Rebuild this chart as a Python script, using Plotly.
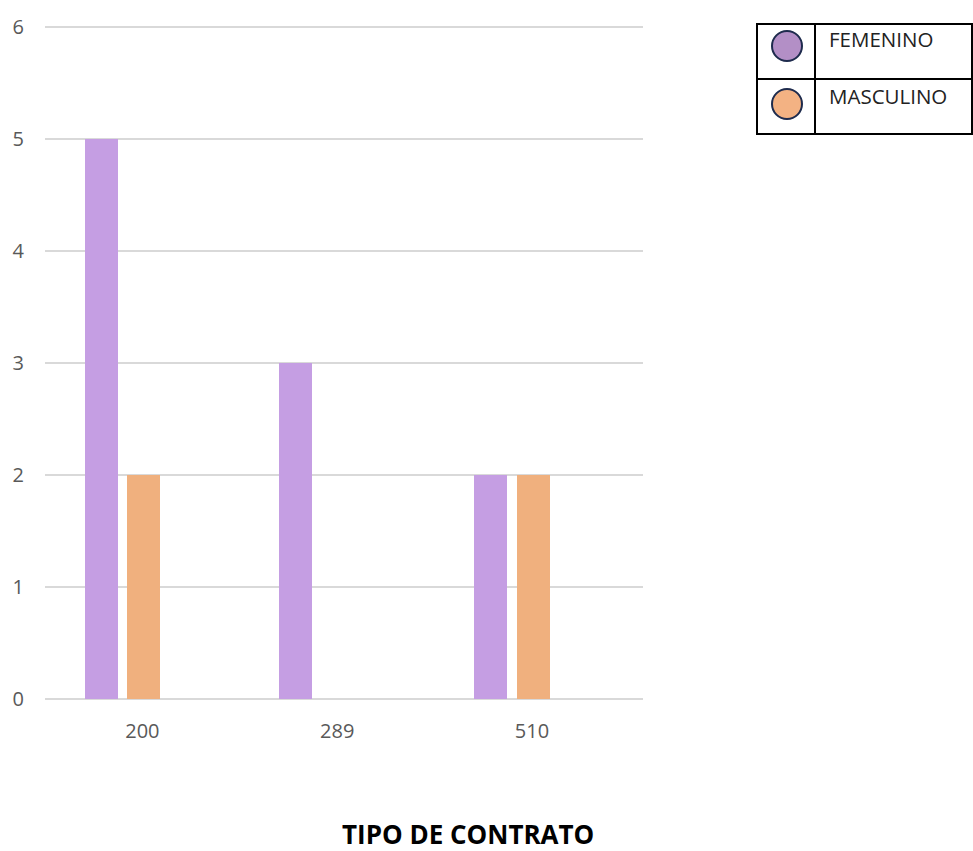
import plotly.graph_objects as go

categories = ["200", "289", "510"]
femenino = [5, 3, 2]
masculino = [2, 0, 2]
series_names = ["FEMENINO", "MASCULINO"]
y_ticks = [0, 1, 2, 3, 4, 5, 6]

FEM_BAR = "#C59EE3"
MAS_BAR = "#F0B07E"
FEM_LEG = "#B38FC6"
MAS_LEG = "#F3B283"

W, H = 973, 851
L, R, T, B = 45, 330, 26, 152
pw = W - L - R
ph = H - T - B

def px(x):
    return (x - L) / pw

def py(y):
    return (H - B - y) / ph

fig = go.Figure()
bw = 33 / 195
fig.add_trace(go.Bar(x=categories, y=femenino, name=series_names[0], marker=dict(color=FEM_BAR, line=dict(width=0)),
                     width=bw, offset=-0.297, showlegend=False))
fig.add_trace(go.Bar(x=categories, y=masculino, name=series_names[1], marker=dict(color=MAS_BAR, line=dict(width=0)),
                     width=bw, offset=-0.077, showlegend=False))

shapes = []
shapes.append(dict(type="rect", xref="paper", yref="paper", x0=px(757), x1=px(972), y0=py(134), y1=py(24),
                   line=dict(color="#000000", width=2), fillcolor="rgba(0,0,0,0)"))
shapes.append(dict(type="line", xref="paper", yref="paper", x0=px(815), x1=px(815), y0=py(134), y1=py(24),
                   line=dict(color="#000000", width=2)))
shapes.append(dict(type="line", xref="paper", yref="paper", x0=px(757), x1=px(972), y0=py(79), y1=py(79),
                   line=dict(color="#000000", width=2)))
for cy, col in [(46, FEM_LEG), (104, MAS_LEG)]:
    shapes.append(dict(type="circle", xref="paper", yref="paper", x0=px(772), x1=px(802),
                       y0=py(cy + 15), y1=py(cy - 15), fillcolor=col,
                       line=dict(color="#1E2B4D", width=2)))

annotations = [
    dict(text=series_names[0], xref="paper", yref="paper", x=px(827), y=py(39), xanchor="left",
         yanchor="middle", showarrow=False, font=dict(family="Open Sans", size=20.5, color="#222222")),
    dict(text=series_names[1], xref="paper", yref="paper", x=px(827), y=py(96), xanchor="left",
         yanchor="middle", showarrow=False, font=dict(family="Open Sans", size=20.5, color="#222222")),
    dict(text="<b>TIPO DE CONTRATO</b>", xref="paper", yref="paper", x=px(468), y=py(834),
         xanchor="center", yanchor="middle", showarrow=False,
         font=dict(family="Open Sans", size=26, color="#000000")),
]

fig.update_layout(
    width=W, height=H,
    margin=dict(l=L, r=R, t=T, b=B, pad=0),
    paper_bgcolor="white", plot_bgcolor="white",
    shapes=shapes, annotations=annotations,
    bargap=0,
    xaxis=dict(range=[-0.5, 2.57], showgrid=False, showline=False, zeroline=False,
               tickfont=dict(family="Open Sans", size=20, color="#595959"),
               ticks="outside", ticklen=14, tickcolor="rgba(0,0,0,0)"),
    yaxis=dict(range=[0, 6.01], tickvals=y_ticks, showgrid=True, gridcolor="#D9D9D9", gridwidth=2,
               zeroline=True, zerolinecolor="#D9D9D9", zerolinewidth=2, showline=False,
               tickfont=dict(family="Open Sans", size=20, color="#595959"),
               ticks="outside", ticklen=16, tickcolor="rgba(0,0,0,0)"),
)

fig.write_html("out.html")
